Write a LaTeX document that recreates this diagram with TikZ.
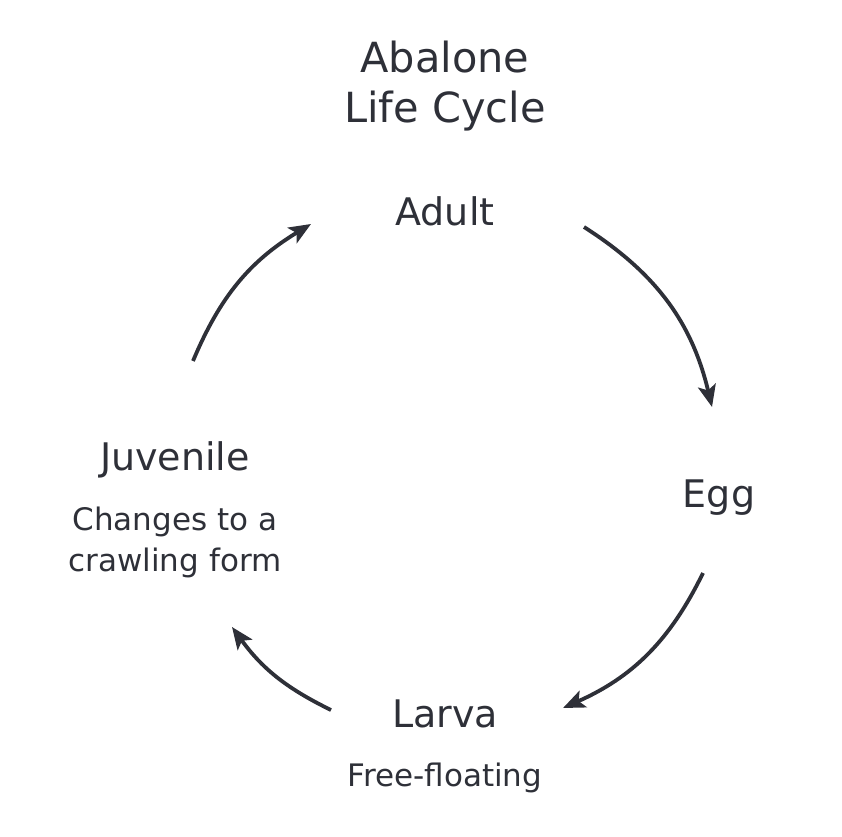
\documentclass[tikz,border=0pt]{standalone}
\usepackage{fontspec}
\setmainfont{DejaVu Sans}
\usetikzlibrary{arrows.meta}
\definecolor{ink}{HTML}{2E3038}

\begin{document}
\begin{tikzpicture}
[x=1pt,y=1pt,ink,
 stage/.style={anchor=base,font=\fontsize{38}{44}\selectfont},
 note/.style={anchor=base,align=center,font=\fontsize{31}{41}\selectfont},
 cycle/.style={-{Stealth[length=22pt,width=18pt,inset=5pt]},line width=3.8pt}]
\useasboundingbox (0,0) rectangle (842,836);
% title
\node[anchor=base,align=center,font=\fontsize{41.5}{50}\selectfont] (title) at (445,713) {Abalone\\Life Cycle};
% stages
\node[stage] (adult) at (445,610) {Adult};
\node[stage] (egg) at (719,329) {Egg};
\node[stage] (larva) at (445,109) {Larva};
\node[note] (larvanote) at (445,50) {Free-floating};
\node[stage] (juvenile) at (175,366) {Juvenile};
\node[note] (juvenilenote) at (175,265) {Changes to a\\crawling form};
% arrow ends
\coordinate (adultout) at (584,609);
\coordinate (eggin) at (712,429);
\coordinate (eggout) at (703,263);
\coordinate (larvain) at (563,128);
\coordinate (larvaout) at (331,126);
\coordinate (juvenilein) at (232,209);
\coordinate (juvenileout) at (193,475);
\coordinate (adultin) at (311,612);
\draw[cycle] (adultout) to[bend left=22] (eggin);
\draw[cycle] (eggout) to[bend left=20] (larvain);
\draw[cycle] (larvaout) to[bend left=14] (juvenilein);
\draw[cycle] (juvenileout) to[bend left=18] (adultin);
\end{tikzpicture}
\end{document}
